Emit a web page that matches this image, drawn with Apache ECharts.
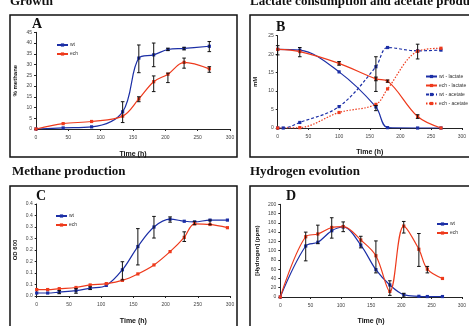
<!DOCTYPE html>
<html><head><meta charset="utf-8">
<script src="https://cdn.jsdelivr.net/npm/echarts@6/dist/echarts.min.js"></script>
<style>html,body{margin:0;padding:0;background:#fff}#c{width:469px;height:326px}</style>
</head><body><div id="c"></div>
<script>
// ---- Panel A: % methane ----
const xA = [0,42,86,134,159,182,204,229,268];
const wtA = [0,0.5,1,8,33,34.5,37,37.5,38.5];
const echA = [0,2.5,3.5,6,14,22,25.5,31,28];
const errA_x = [134,159,159,182,182,204,204,229,229,268,268];
const errA_lo = [3,26.2,12.7,29,17.4,36.5,21.6,36.8,28.3,36,26.4];
const errA_hi = [12.7,39.1,15,40,24.7,37.6,26,38,33,40.7,29];
// ---- Panel B: mM ----
const xB = [0,36,100,160,179,228,266];
const wtLac = [21.3,21.1,15.2,5.7,0.1,0,0];
const echLac = [21.3,20.7,17.5,13.3,12.7,3.1,0];
const xWtAce = [0,9,36,100,160,179,228,266];
const wtAce = [0,0,1.5,5.8,16.6,21.8,20.9,21.1];
const xEchAce = [0,36,100,160,179,228,266];
const echAce = [0,0.1,4.2,6.4,10.6,20.8,21.6];
const errB_x = [0,36,100,160,160,160,179,228,228];
const errB_lo = [19.8,19.3,17,9.9,4.7,12.8,12.4,18.7,2.6];
const errB_hi = [22.3,21.8,18,19.3,6.1,13.8,13,22.7,3.6];
// ---- Panel C: OD 600 ----
const xC = [0,17,35,61,83,108,133,157,182,207,229,245,269,296];
const wtC = [0.013,0.013,0.017,0.023,0.034,0.046,0.114,0.215,0.30,0.334,0.325,0.322,0.33,0.33];
const echC = [0.028,0.028,0.032,0.037,0.048,0.054,0.068,0.096,0.135,0.193,0.255,0.314,0.311,0.297];
const errC_x = [35,61,83,133,157,182,207,229,245,269];
const errC_lo = [0.010,0.012,0.028,0.070,0.135,0.252,0.321,0.237,0.31,0.31];
const errC_hi = [0.024,0.032,0.040,0.149,0.293,0.346,0.344,0.279,0.325,0.33];
const tickC = ['0.0','0.1','0.1','0.2','0.2','0.3','0.3','0.4','0.4'];
// ---- Panel D: [Hydrogen] (ppm) ----
const xD = [0,42,62,85,104,133,158,181,204,229,243,268];
const wtD = [0,110,118,143,151,112,59,26,5,1.5,1,1];
const echD = [0,130,136,150,152,123,89,12,153,103,60,40];
const errD_x = [42,62,85,104,133,158,181,204,204,229,243];
const errD_lo = [78,115,127,141,106,52,3.5,138,0,66,52];
const errD_hi = [140,155,171,162,131,121,35,163,8,137,66];

const titles = ['Growth','Lactate consumption and acetate production','Methane production','Hydrogen evolution'];
const letters = ['A','B','C','D'];

const BLUE = '#1c2fa6', RED = '#ee3a1c';
const SANS = 'Liberation Sans', SERIF = 'Liberation Serif';

const zip = (xs, ys) => xs.map((x, i) => [x, ys[i]]);
const zip3 = (xs, lo, hi) => xs.map((x, i) => [x, lo[i], hi[i]]);

function errSeries(idx, data) {
  return {
    type: 'custom', xAxisIndex: idx, yAxisIndex: idx, z: 5,
    encode: { x: 0, y: [1, 2] }, data: data, silent: true,
    renderItem: function (params, api) {
      const x = api.value(0), lo = api.value(1), hi = api.value(2);
      const p1 = api.coord([x, lo]), p2 = api.coord([x, hi]);
      const w = 1.8, st = { stroke: '#111', lineWidth: 1 };
      return { type: 'group', children: [
        { type: 'line', shape: { x1: p1[0], y1: p1[1], x2: p2[0], y2: p2[1] }, style: st },
        { type: 'line', shape: { x1: p1[0] - w, y1: p1[1], x2: p1[0] + w, y2: p1[1] }, style: st },
        { type: 'line', shape: { x1: p2[0] - w, y1: p2[1], x2: p2[0] + w, y2: p2[1] }, style: st }
      ]};
    }
  };
}
function lineSeries(idx, name, data, color, type) {
  return {
    type: 'line', name: name, xAxisIndex: idx, yAxisIndex: idx, data: data,
    smooth: 0.35, symbol: 'rect', symbolSize: 3.2, z: 3,
    lineStyle: { color: color, width: 1.2, type: type || 'solid' },
    itemStyle: { color: color }
  };
}
function xAx(idx, name, gap) {
  return {
    gridIndex: idx, type: 'value', min: 0, max: 300, interval: 50,
    name: name, nameLocation: 'middle', nameGap: gap,
    nameTextStyle: { fontFamily: SANS, fontWeight: 'bold', fontSize: 7, color: '#111' },
    axisLine: { lineStyle: { color: '#222', width: 1 } },
    axisTick: { length: 2, lineStyle: { color: '#222' } },
    axisLabel: { fontFamily: SANS, fontSize: 5, color: '#444', margin: 6 },
    splitLine: { show: false }
  };
}
function yAx(idx, name, max, interval, gap, fmt) {
  return {
    gridIndex: idx, type: 'value', min: 0, max: max, interval: interval,
    name: name, nameLocation: 'middle', nameGap: gap, nameRotate: 90,
    nameTextStyle: { fontFamily: SANS, fontWeight: 'bold', fontSize: 6, color: '#111' },
    axisLine: { show: true, lineStyle: { color: '#222', width: 1 } },
    axisTick: { show: true, length: 2, lineStyle: { color: '#222' } },
    axisLabel: { fontFamily: SANS, fontSize: 5, color: '#444', margin: 4, formatter: fmt },
    splitLine: { show: false }
  };
}
function legend(left, top, names, gap) {
  return {
    left: left, top: top, orient: 'vertical', data: names,
    itemWidth: 11, itemHeight: 4, itemGap: gap, padding: 0,
    selectedMode: false,
    textStyle: { fontFamily: SANS, fontSize: 5, color: '#333', padding: [0, 0, 0, -3] }
  };
}

const titlePos = [[10, 1.5], [250, 1.5], [12, 172], [250, 172]];
const letterPos = [[32, 24], [276, 27], [36, 196], [286, 196]];
const boxes = [[10, 15, 227, 142], [250, 15, 240, 142], [10, 186, 227, 160], [250, 186, 240, 160]];

const graphic = [];
boxes.forEach(b => graphic.push({ type: 'rect', shape: { x: b[0], y: b[1], width: b[2], height: b[3] },
  style: { fill: 'none', stroke: '#111', lineWidth: 1.5 }, z: 1, silent: true }));
titles.forEach((t, i) => graphic.push({ type: 'text', x: titlePos[i][0], y: titlePos[i][1],
  style: { text: t, font: 'bold 13px ' + SERIF, fill: '#111', textVerticalAlign: 'middle' }, z: 10 }));
letters.forEach((t, i) => graphic.push({ type: 'text', x: letterPos[i][0], y: letterPos[i][1],
  style: { text: t, font: 'bold 14px ' + SERIF, fill: '#111', textVerticalAlign: 'middle' }, z: 10 }));

const option = {
  animation: false,
  backgroundColor: '#fff',
  graphic: graphic,
  grid: [
    { left: 36, top: 32.3, width: 194, height: 96.7 },
    { left: 277.7, top: 35.7, width: 195, height: 92.3 },
    { left: 36.7, top: 204, width: 193.3, height: 94.7 },
    { left: 280.3, top: 204.3, width: 189.3, height: 95.7 }
  ],
  xAxis: [xAx(0, 'Time (h)', 22), xAx(1, 'Time (h)', 21), xAx(2, 'Time (h)', 22), xAx(3, 'Time (h)', 21)],
  yAxis: [
    yAx(0, '% methane', 45, 5, 18),
    yAx(1, 'mM', 25, 5, 19),
    yAx(2, 'OD 600', 0.4, 0.05, 18),
    yAx(3, '[Hydrogen] (ppm)', 200, 20, 20)
  ],
  legend: [
    legend(56, 42.5, ['wt', 'ech'], 4),
    legend(425, 74, ['wt - lactate', 'ech - lactate', 'wt - acetate', 'ech - acetate'], 4),
    legend(55, 213.5, ['wt ', 'ech '], 4),
    legend(436, 221.5, ['wt  ', 'ech  '], 4)
  ],
  series: [
    lineSeries(0, 'wt', zip(xA, wtA), BLUE),
    lineSeries(0, 'ech', zip(xA, echA), RED),
    errSeries(0, zip3(errA_x, errA_lo, errA_hi)),
    lineSeries(1, 'wt - lactate', zip(xB, wtLac), BLUE),
    lineSeries(1, 'ech - lactate', zip(xB, echLac), RED),
    lineSeries(1, 'wt - acetate', zip(xWtAce, wtAce), BLUE, [3, 2]),
    lineSeries(1, 'ech - acetate', zip(xEchAce, echAce), RED, [1.5, 1.5]),
    errSeries(1, zip3(errB_x, errB_lo, errB_hi)),
    lineSeries(2, 'wt ', zip(xC, wtC), BLUE),
    lineSeries(2, 'ech ', zip(xC, echC), RED),
    errSeries(2, zip3(errC_x, errC_lo, errC_hi)),
    lineSeries(3, 'wt  ', zip(xD, wtD), BLUE),
    lineSeries(3, 'ech  ', zip(xD, echD), RED),
    errSeries(3, zip3(errD_x, errD_lo, errD_hi))
  ]
};
option.yAxis[2].axisLabel.formatter = (v, i) => tickC[i];
const chart = echarts.init(document.getElementById('c'), null, { renderer: 'canvas' });
chart.setOption(option);
</script></body></html>
